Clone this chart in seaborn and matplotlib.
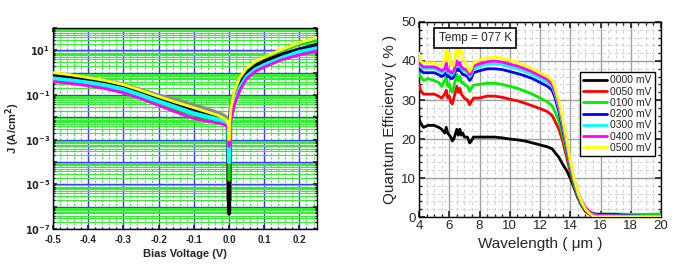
"""
plot.py - dark current J-V curves and spectral quantum efficiency, side by side
"""
import numpy as np
import matplotlib
matplotlib.use('Agg')
import matplotlib.pyplot as plt
import matplotlib.ticker as mticker
import seaborn as sns

# ---- left panel: J-V curves ----
bias_v = [-0.5, -0.45, -0.4, -0.35, -0.3, -0.25, -0.2, -0.15, -0.1, -0.06, -0.03,
          -0.015, -0.006, -0.002, 0.0, 0.002, 0.006, 0.015, 0.03, 0.05, 0.075,
          0.1, 0.15, 0.2, 0.25]

jv_gray = [0.85, 0.68, 0.53, 0.4, 0.27, 0.155, 0.088, 0.055, 0.033, 0.021, 0.014,
           0.011, 0.008, 0.006, 2e-6, 0.006, 0.02, 0.1, 0.4, 1.1, 2.2, 3.4, 6.5, 10.5, 15]
jv_olive = [0.8, 0.64, 0.5, 0.37, 0.25, 0.14, 0.078, 0.045, 0.026, 0.017, 0.012,
            0.009, 0.007, 0.005, 5e-4, 0.005, 0.02, 0.1, 0.4, 1.1, 2.2, 3.4, 6.5, 10.5, 15]
jv_navy = [0.65, 0.52, 0.41, 0.3, 0.2, 0.11, 0.058, 0.031, 0.017, 0.012, 0.009,
           0.007, 0.0055, 0.004, 4e-4, 0.005, 0.02, 0.1, 0.4, 1.1, 2.3, 3.6, 7.0, 12, 20]
jv_purple = [0.45, 0.37, 0.3, 0.22, 0.15, 0.082, 0.043, 0.022, 0.012, 0.0085, 0.0066,
             0.0054, 0.0043, 0.003, 5e-4, 0.003, 0.012, 0.06, 0.25, 0.75, 1.6, 2.5, 5.0, 8.0, 11]
jv_black = [0.75, 0.6, 0.47, 0.34, 0.22, 0.12, 0.064, 0.034, 0.019, 0.013, 0.0095,
            0.0075, 0.006, 0.004, 5e-7, 0.004, 0.018, 0.09, 0.35, 1.0, 2.0, 3.1, 6.0, 9.5, 14]
jv_red = [0.5, 0.41, 0.33, 0.25, 0.165, 0.09, 0.046, 0.024, 0.013, 0.009, 0.007,
          0.0057, 0.0045, 0.003, 1e-3, 0.003, 0.008, 0.035, 0.16, 0.55, 1.2, 1.9, 4.0, 6.5, 9.6]
jv_green = [0.48, 0.39, 0.31, 0.23, 0.155, 0.085, 0.044, 0.023, 0.0125, 0.0088, 0.0068,
            0.0055, 0.0044, 0.003, 1.5e-5, 0.005, 0.028, 0.14, 0.55, 1.5, 3.0, 4.6, 10, 18, 28]
jv_cyan = [0.55, 0.45, 0.36, 0.27, 0.18, 0.098, 0.052, 0.028, 0.015, 0.0105, 0.008,
           0.0065, 0.005, 0.004, 1e-4, 0.004, 0.01, 0.045, 0.2, 0.66, 1.4, 2.2, 4.6, 8.5, 12.3]
jv_magenta = [0.4, 0.33, 0.26, 0.19, 0.125, 0.068, 0.034, 0.017, 0.0088, 0.0066, 0.0055,
              0.0048, 0.004, 0.0025, 5e-4, 0.0025, 0.008, 0.035, 0.16, 0.55, 1.15, 1.8, 3.8, 6.3, 9.5]
jv_yellow = [1.0, 0.8, 0.6, 0.44, 0.29, 0.16, 0.085, 0.047, 0.027, 0.017, 0.012,
             0.009, 0.007, 0.005, 1e-3, 0.006, 0.03, 0.15, 0.6, 1.6, 3.2, 5.0, 11, 22, 37]

# ---- right panel: quantum efficiency ----
wavelength = [4.0, 4.1, 4.3, 4.6, 5.0, 5.3, 5.5, 5.7, 5.8, 5.9, 6.0, 6.1, 6.2, 6.3,
              6.5, 6.6, 6.7, 6.8, 6.9, 7.0, 7.2, 7.35, 7.45, 7.6, 8.0, 8.5, 9.0, 9.5,
              10.0, 10.5, 11.0, 11.5, 12.0, 12.5, 12.8, 13.0, 13.25, 13.5, 13.75, 14.0,
              14.25, 14.5, 14.75, 15.0, 15.25, 15.5, 15.75, 16.0, 17.0, 18.0, 19.0, 20.0]
qe_0000 = [25.5, 24, 23, 23.5, 23.5, 23, 22.5, 21.5, 23, 21.5, 21, 20.5, 19.5, 20,
           22.5, 21, 22.5, 21, 21.5, 20.5, 20.5, 19, 19.5, 20.5, 20.5, 20.5, 20.5, 20.3,
           20, 19.8, 19.5, 19, 18.5, 18, 17.5, 16.5, 15.3, 13.5, 12, 10,
           7.5, 5, 3, 1.5, 0.8, 0.2, 0, 0, 0, 0, 0, 0]
qe_0050 = [34, 32.5, 31.5, 31.5, 31.5, 31, 30.5, 31.5, 32.5, 30.5, 31, 29.5, 29, 30.5,
           33.5, 32, 33, 31.5, 31, 30.5, 30, 28.8, 29.5, 30.5, 30.5, 31, 31, 30.7,
           30.2, 29.8, 29.2, 28.5, 27.8, 27, 26, 24.5, 22.5, 19.5, 15.5, 11.5,
           8, 5, 3, 1.8, 1.0, 0.5, 0.3, 0.2, 0.2, 0.2, 0.2, 0.2]
qe_0100 = [37.5, 36, 35, 35.5, 35, 34.5, 33.5, 35, 36, 33.5, 34, 32.5, 32, 33.5,
           36.5, 35, 36, 34.5, 34.5, 34, 33.5, 32.3, 33, 33.8, 34, 34.3, 34.3, 34,
           33.5, 33, 32.3, 31.5, 30.5, 29.5, 28.5, 27, 24.5, 21, 17, 12.5,
           8.5, 5.5, 3.2, 2, 1.3, 1.0, 0.8, 0.8, 0.8, 0.7, 0.7, 0.8]
qe_0200 = [39, 37.5, 37, 37, 37, 36.5, 36, 36.5, 37.5, 36, 36, 35.5, 35.5, 36,
           38.5, 37.5, 38, 37, 36.5, 36.5, 36, 35, 35.5, 37, 37.5, 38, 38, 37.8,
           37.3, 36.8, 36.2, 35.5, 34.5, 33.5, 32.5, 30.5, 27, 22.5, 18, 13,
           9, 5.8, 3.5, 2, 1.3, 0.9, 0.7, 0.7, 0.7, 0.3, 0.2, 0.2]
qe_0300 = [40, 38.5, 38, 38, 38, 37.5, 37, 37.5, 38.5, 37, 37, 36.5, 36.5, 37,
           39.5, 38.5, 39, 38, 37.5, 37.5, 37, 36, 36.5, 38, 38.7, 39.2, 39.3, 39,
           38.5, 38, 37.3, 36.5, 35.5, 34.5, 33.5, 31.5, 28, 23.5, 18.5, 13.5,
           9.3, 6, 3.7, 2.2, 1.3, 0.8, 0.5, 0.4, 0.3, 0.2, 0.2, 0.2]
qe_0400 = [40.5, 39, 38.5, 38.5, 38.5, 38, 37.5, 38, 39.5, 37.5, 37.5, 37, 37, 37.5,
           40, 39, 39.5, 38.5, 38, 38, 37.5, 36.5, 37, 38.7, 39.3, 39.8, 40, 39.7,
           39.2, 38.7, 38, 37.2, 36.2, 35.2, 34, 32, 28.5, 24, 19, 14,
           9.8, 6.5, 4.2, 2.5, 1.5, 0.8, 0.5, 0.4, 0.3, 0.2, 0.2, 0.2]
qe_0500 = [42, 40, 39.5, 39.5, 39.5, 39, 39, 40, 43.5, 40, 42, 39, 38.5, 39,
           43.5, 41, 43, 42.5, 40.5, 40, 38.5, 37.3, 38, 39.5, 40.3, 40.8, 41, 40.7,
           40.2, 39.6, 38.8, 38, 37, 36, 35, 33, 29.5, 25, 20, 14.5,
           10, 6.5, 4, 2, 1, 0.3, 0.1, 0.1, 0.1, 0.1, 0.1, 0.1]
qe_labels = ['0000 mV', '0050 mV', '0100 mV', '0200 mV', '0300 mV', '0400 mV', '0500 mV']

sns.set_theme(style='white')
plt.rcParams['font.family'] = ['Liberation Sans', 'DejaVu Sans']

fig = plt.figure(figsize=(6.84, 2.68), dpi=100)
ax1 = fig.add_axes([0.0775, 0.1455, 0.386, 0.75])
ax2 = fig.add_axes([0.6126, 0.190, 0.3538, 0.728])

# 1. J-V PANEL
jv_curves = [
    (jv_gray, '#8c8c8c', 4.0),
    (jv_olive, '#9a9a30', 1.5),
    (jv_navy, '#000080', 1.5),
    (jv_purple, '#800080', 1.5),
    (jv_black, 'black', 3.0),
    (jv_red, 'red', 2.0),
    (jv_green, '#00dd00', 2.0),
    (jv_cyan, 'cyan', 3.0),
    (jv_magenta, 'magenta', 2.0),
    (jv_yellow, 'yellow', 2.0),
]
for jv, color, lw in jv_curves:
    sns.lineplot(x=bias_v, y=jv, ax=ax1, color=color, lw=lw,
                 estimator=None, sort=False, zorder=3)

ax1.set_yscale('log')
ax1.set_xlim(-0.5, 0.25)
ax1.set_ylim(1e-7, 1e2)
ax1.xaxis.set_major_locator(mticker.MultipleLocator(0.1))
ax1.xaxis.set_minor_locator(mticker.MultipleLocator(0.02))
ax1.yaxis.set_major_locator(mticker.LogLocator(base=10, numticks=20))
ax1.yaxis.set_minor_locator(mticker.LogLocator(base=10, subs=np.arange(2, 10), numticks=20))
ax1.yaxis.set_minor_formatter(mticker.NullFormatter())


def _decade_label(val, pos):
    e = int(round(np.log10(val)))
    return f'$\\mathbf{{10^{{{e}}}}}$' if e % 2 else ''


ax1.yaxis.set_major_formatter(mticker.FuncFormatter(_decade_label))
ax1.xaxis.set_major_formatter(mticker.FuncFormatter(lambda v, p: f'{v:.1f}'))
ax1.grid(which='major', color='#3a3aff', lw=1.0)
ax1.grid(which='minor', axis='y', color='#33ee33', lw=0.8)
ax1.grid(which='minor', axis='x', color='#44ee44', lw=0.8, ls=(0, (2, 1.5)))
ax1.set_axisbelow(True)
ax1.tick_params(which='both', direction='in', left=True, bottom=True,
                right=True, top=True, labelsize=7, pad=2)
ax1.tick_params(axis='x', pad=4)
ax1.tick_params(which='major', length=3)
ax1.tick_params(which='minor', length=1.5)
for lbl in ax1.get_xticklabels():
    lbl.set_fontweight('bold')
for sp in ax1.spines.values():
    sp.set_color('black')
    sp.set_linewidth(1.0)
ax1.set_xlabel('Bias Voltage (V)', fontsize=8, fontweight='bold', labelpad=3)
ax1.set_ylabel('J (A/cm$^\\mathbf{2}$)', fontsize=8, fontweight='bold', labelpad=2)

# 2. QUANTUM EFFICIENCY PANEL
qe_series = [qe_0000, qe_0050, qe_0100, qe_0200, qe_0300, qe_0400, qe_0500]
qe_colors = ['black', 'red', '#00ee00', 'blue', 'cyan', 'magenta', 'yellow']
for qe, color, label in zip(qe_series, qe_colors, qe_labels):
    sns.lineplot(x=wavelength, y=qe, ax=ax2, color=color, lw=2.0, label=label,
                 estimator=None, sort=False, zorder=3)

ax2.set_xlim(4, 20)
ax2.set_ylim(0, 50)
ax2.xaxis.set_major_locator(mticker.MultipleLocator(2))
ax2.xaxis.set_minor_locator(mticker.MultipleLocator(0.5))
ax2.yaxis.set_major_locator(mticker.MultipleLocator(10))
ax2.yaxis.set_minor_locator(mticker.MultipleLocator(2))
ax2.grid(which='major', color='#a0a0a0', lw=1.0)
ax2.grid(which='minor', color='#d4d4d4', lw=0.8, ls=(0, (3, 2.5)))
ax2.set_axisbelow(True)
ax2.tick_params(which='both', direction='in', left=True, bottom=True,
                right=True, top=True, labelsize=9.5, pad=2)
ax2.tick_params(which='major', length=4)
ax2.tick_params(which='minor', length=2)
for sp in ax2.spines.values():
    sp.set_color('black')
    sp.set_linewidth(1.0)
ax2.set_xlabel('Wavelength ( \u03bcm )', fontsize=11, labelpad=4)
ax2.set_ylabel('Quantum Efficiency ( % )', fontsize=11, labelpad=3)

leg = ax2.legend(loc='upper right', bbox_to_anchor=(0.975, 0.742), fontsize=7.5,
                 frameon=True, fancybox=False, edgecolor='black', framealpha=1,
                 handlelength=2.3, handletextpad=0.3, borderpad=0.3,
                 labelspacing=0.12, borderaxespad=0)
for h in leg.get_lines():
    h.set_linewidth(2.0)
leg.get_frame().set_linewidth(1.0)

ax2.text(0.232, 0.918, 'Temp = 077 K', transform=ax2.transAxes, fontsize=8.5,
         ha='center', va='center', zorder=5,
         bbox=dict(boxstyle='square,pad=0.35', fc='white', ec='black', lw=1.2))

fig.savefig('out.png', dpi=100)
plt.close(fig)
